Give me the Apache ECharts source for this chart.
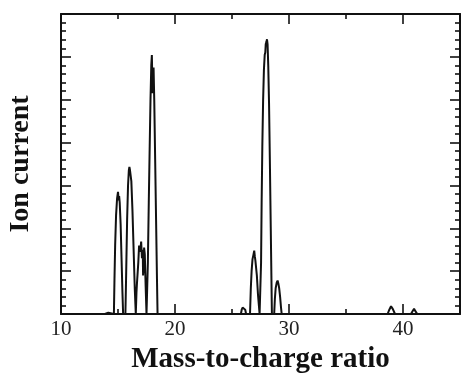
<!DOCTYPE html>
<html>
<head>
<meta charset="utf-8">
<script src="https://cdn.jsdelivr.net/npm/echarts@6/dist/echarts.min.js"></script>
<style>html,body{margin:0;padding:0;background:#fff}#c{width:461px;height:376px}</style>
</head>
<body>
<div id="c"></div>
<script>
// Mass-to-charge ratio (m/z) and ion current (arbitrary units)
var baselineStart = [[10, 0]];
var peak14 = [[13.85,0],[14.0,0.03],[14.15,0.03],[14.3,0]];
var peak15 = [[14.64,0],[14.69,0.8],[14.75,1.6],[14.83,2.3],[14.92,2.7],[15.0,2.85],[15.03,2.89],[15.06,2.65],[15.1,2.75],[15.15,2.6],[15.23,2.1],[15.31,1.3],[15.39,0.5],[15.45,0]];
var peak16 = [[15.65,0],[15.72,1.0],[15.8,2.2],[15.88,3.0],[15.95,3.35],[16.0,3.43],[16.05,3.36],[16.1,3.38],[16.17,3.1],[16.27,2.4],[16.37,1.5],[16.47,0.6],[16.56,0]];
var peak17 = [[16.58,0],[16.62,0.5],[16.66,0.7],[16.72,0.72],[16.78,1.2],[16.85,1.6],[16.95,1.45],[17.03,1.69],[17.1,1.3],[17.17,1.5],[17.2,0.9],[17.25,1.1],[17.29,1.55],[17.35,1.4],[17.42,0.7],[17.5,0]];
var peak18 = [[17.55,0],[17.62,1.2],[17.7,2.6],[17.78,3.9],[17.85,5.0],[17.92,5.8],[17.97,6.04],[18.0,5.6],[18.03,5.15],[18.07,5.7],[18.12,5.75],[18.18,5.0],[18.26,3.6],[18.34,2.2],[18.42,0.8],[18.47,0]];
var peak26 = [[25.78,0],[25.85,0.1],[25.93,0.15],[26.0,0.16],[26.08,0.15],[26.16,0.1],[26.24,0]];
var peak27 = [[26.58,0],[26.65,0.6],[26.72,1.0],[26.8,1.28],[26.88,1.38],[26.95,1.48],[27.0,1.35],[27.05,1.25],[27.1,1.22],[27.18,0.9],[27.28,0.45],[27.42,0]];
var peak28 = [[27.5,0],[27.55,1.2],[27.6,2.6],[27.66,3.9],[27.73,5.0],[27.8,5.7],[27.87,6.05],[27.92,6.1],[27.96,6.3],[28.02,6.35],[28.07,6.41],[28.12,6.3],[28.18,5.8],[28.25,4.9],[28.32,3.6],[28.4,2.0],[28.5,0]];
var peak29 = [[28.7,0],[28.76,0.35],[28.83,0.6],[28.92,0.73],[29.0,0.78],[29.06,0.72],[29.14,0.6],[29.22,0.4],[29.3,0.15],[29.36,0]];
var peak39 = [[38.65,0],[38.8,0.1],[38.95,0.18],[39.0,0.19],[39.1,0.12],[39.3,0]];
var peak41 = [[40.7,0],[40.85,0.07],[40.97,0.12],[41.1,0.06],[41.25,0]];
var baselineEnd = [[45, 0]];
var xTickLabels = ['10', '20', '30', '40'];

var spectrum = [].concat(baselineStart, peak14, peak15, peak16, peak17, peak18,
  peak26, peak27, peak28, peak29, peak39, peak41, baselineEnd);

var FONT = '"Liberation Serif", "DejaVu Serif", serif';
var chart = echarts.init(document.getElementById('c'), null, {renderer: 'canvas'});
var axisLineStyle = {color: '#111', width: 2};
function xAxisCfg(pos, showLabels) {
  return {
    type: 'value', position: pos, min: 10, max: 45, interval: 10,
    axisLine: {show: true, onZero: false, lineStyle: axisLineStyle},
    axisTick: {show: true, inside: true, length: 10, lineStyle: {color: '#111', width: 1.6}},
    minorTick: {show: true, splitNumber: 2, length: 5, lineStyle: {color: '#111', width: 1.6}},
    splitLine: {show: false}, minorSplitLine: {show: false},
    axisLabel: {show: showLabels, margin: 5, fontFamily: FONT, fontSize: 21, color: '#222',
      formatter: function (v) { var s = String(v); return xTickLabels.indexOf(s) >= 0 ? s : ''; }},
    name: showLabels ? 'Mass-to-charge ratio' : '',
    nameLocation: 'middle', nameGap: 29,
    nameTextStyle: {fontFamily: FONT, fontSize: 29, fontWeight: 'bold', color: '#111', verticalAlign: 'top'}
  };
}
function yAxisCfg(pos, showName) {
  return {
    type: 'value', position: pos, min: 0, max: 7, interval: 1,
    axisLine: {show: true, onZero: false, lineStyle: axisLineStyle},
    axisTick: {show: true, inside: true, length: 10, lineStyle: {color: '#111', width: 1.6}},
    minorTick: {show: true, splitNumber: 5, length: 5, lineStyle: {color: '#111', width: 1.6}},
    splitLine: {show: false}, minorSplitLine: {show: false},
    axisLabel: {show: false},
    name: showName ? 'Ion current' : '',
    nameLocation: 'middle', nameGap: 26,
    nameTextStyle: {fontFamily: FONT, fontSize: 28, fontWeight: 'bold', color: '#111'}
  };
}
chart.setOption({
  animation: false,
  backgroundColor: '#fff',
  grid: {left: 61, right: 1, top: 14, bottom: 62, containLabel: false, outerBoundsMode: 'none'},
  xAxis: [xAxisCfg('bottom', true), xAxisCfg('top', false)],
  yAxis: [yAxisCfg('left', true), yAxisCfg('right', false)],
  series: [{
    type: 'line', xAxisIndex: 0, yAxisIndex: 0,
    data: spectrum, showSymbol: false, symbol: 'none', smooth: false,
    lineStyle: {color: '#111', width: 2}, clip: true
  }]
});
</script>
</body>
</html>
